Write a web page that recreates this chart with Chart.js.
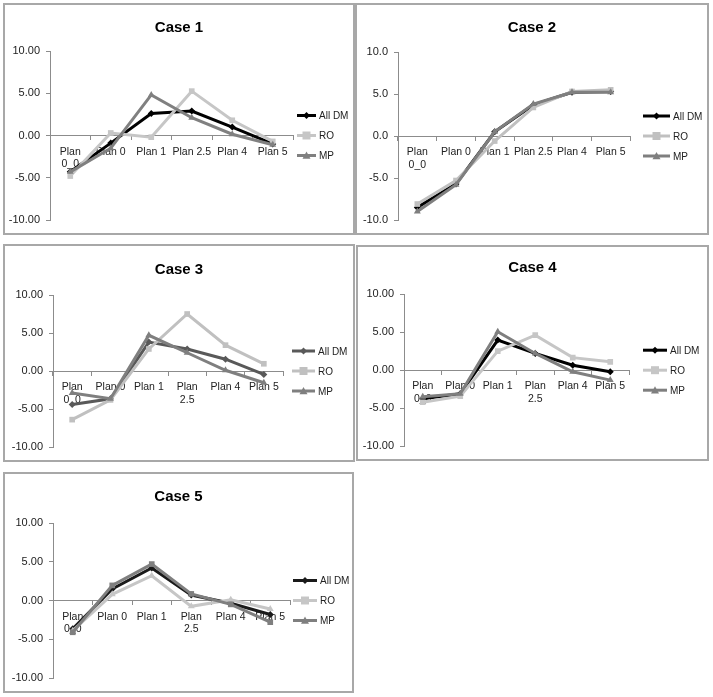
<!DOCTYPE html>
<html>
<head>
<meta charset="utf-8">
<script src="https://cdn.jsdelivr.net/npm/chart.js@4"></script>
<style>
  body { margin: 0; background: #fff; width: 713px; height: 697px; position: relative; overflow: hidden; }
  .panel { position: absolute; border: 2px solid #a8a8a8; box-sizing: border-box; background: #fff; }
  .panel canvas { display: block; }
</style>
</head>
<body>
<div id="wrap"></div>
<script>
const categories = ["Plan 0_0", "Plan 0", "Plan 1", "Plan 2.5", "Plan 4", "Plan 5"]
const seriesNames = ["All DM", "RO", "MP"]
const caseTitles = ["Case 1", "Case 2", "Case 3", "Case 4", "Case 5"]

const case1AllDM = [-4.3, -0.9, 2.6, 2.9, 1.0, -1.0]
const case1RO = [-4.8, 0.3, -0.2, 5.25, 1.8, -0.7]
const case1MP = [-4.3, -1.5, 4.8, 2.1, 0.15, -1.1]

const case2AllDM = [-8.5, -5.7, 0.5, 3.7, 5.2, 5.3]
const case2RO = [-8.1, -5.3, -0.6, 3.4, 5.3, 5.5]
const case2MP = [-9.0, -5.8, 0.5, 3.8, 5.2, 5.2]

const case3AllDM = [-4.4, -3.65, 3.8, 2.9, 1.55, -0.45]
const case3RO = [-6.4, -3.8, 2.9, 7.5, 3.4, 0.95]
const case3MP = [-2.9, -3.65, 4.7, 2.4, 0.1, -1.55]

const case4AllDM = [-3.75, -3.1, 3.95, 2.2, 0.65, -0.2]
const case4RO = [-4.2, -3.4, 2.5, 4.6, 1.65, 1.1]
const case4MP = [-3.5, -3.1, 5.05, 2.2, -0.2, -1.3]

const case5AllDM = [-3.65, 1.5, 4.2, 0.7, -0.35, -1.8]
const case5RO = [-3.9, 0.8, 3.2, -0.75, 0.1, -1.1]
const case5MP = [-4.1, 1.95, 4.7, 0.85, -0.5, -2.8]

const yTicks = [-10, -5, 0, 5, 10]

const caseData = [
  [case1AllDM, case1RO, case1MP],
  [case2AllDM, case2RO, case2MP],
  [case3AllDM, case3RO, case3MP],
  [case4AllDM, case4RO, case4MP],
  [case5AllDM, case5RO, case5MP]
]

const legendMarkers = ["rectRot", "rect", "triangle"]

// panel boxes and plot areas (canvas px)
const panels = [
  { left: 3, top: 3, w: 352, h: 232, L: 45, R: 288, T: 46, B: 215, titleY: 23, legX: 292, legLen: 19, wrap: [0], dec: 2, colors: ["#000000", "#c6c6c6", "#808080"], markers: ["rectRot", "rect", "triangle"] },
  { left: 355, top: 3, w: 354, h: 232, L: 41, R: 273, T: 47, B: 215, titleY: 23, legX: 286, legLen: 27, wrap: [0], dec: 1, colors: ["#000000", "#c0c0c0", "#7f7f7f"], markers: ["rectRot", "rect", "triangle"] },
  { left: 3, top: 244, w: 352, h: 218, L: 48, R: 278, T: 49, B: 201, titleY: 24, legX: 287, legLen: 23, wrap: [0, 3], dec: 2, colors: ["#595959", "#c0c0c0", "#7f7f7f"], markers: ["rectRot", "rect", "triangle"] },
  { left: 356, top: 245, w: 353, h: 216, L: 46, R: 271, T: 47, B: 200, titleY: 21, legX: 285, legLen: 24, wrap: [0, 3], dec: 2, colors: ["#000000", "#c6c6c6", "#7f7f7f"], markers: ["rectRot", "rect", "triangle"] },
  { left: 3, top: 472, w: 351, h: 221, L: 48, R: 285, T: 49, B: 204, titleY: 23, legX: 288, legLen: 24, wrap: [0, 3], dec: 2, colors: ["#1a1a1a", "#c6c6c6", "#7f7f7f"], markers: ["rectRot", "triangle", "rect"] }
]

const FONT = "'Liberation Sans', Arial, sans-serif"

function drawMarker(ctx, style, x, y, r, color) {
  ctx.save()
  ctx.fillStyle = color
  ctx.beginPath()
  if (style === "rect") {
    ctx.rect(x - r, y - r, r * 2, r * 2)
  } else if (style === "rectRot") {
    ctx.moveTo(x, y - r); ctx.lineTo(x + r, y); ctx.lineTo(x, y + r); ctx.lineTo(x - r, y)
  } else {
    ctx.moveTo(x, y - r); ctx.lineTo(x + r, y + r * 0.8); ctx.lineTo(x - r, y + r * 0.8)
  }
  ctx.closePath()
  ctx.fill()
  ctx.restore()
}

// Excel-like legend: line with marker, then the name
const excelLegend = {
  id: "excelLegend",
  afterDraw(chart, args, opts) {
    const ctx = chart.ctx
    const area = chart.chartArea
    const mid = (area.top + area.bottom) / 2
    chart.data.datasets.forEach((ds, i) => {
      const y = mid + (i - 1) * 20
      ctx.save()
      ctx.strokeStyle = ds.borderColor
      ctx.lineWidth = 3
      ctx.beginPath()
      ctx.moveTo(opts.x, y)
      ctx.lineTo(opts.x + opts.len, y)
      ctx.stroke()
      ctx.restore()
      drawMarker(ctx, legendMarkers[i], opts.x + opts.len / 2, y, ds.pointRadius, ds.borderColor)
      ctx.save()
      ctx.fillStyle = "#222"
      ctx.font = "10px " + FONT
      ctx.textBaseline = "middle"
      ctx.fillText(ds.label, opts.x + opts.len + 3, y + 1)
      ctx.restore()
    })
  }
}

const wrapEl = document.getElementById("wrap")

panels.forEach((p, idx) => {
  const div = document.createElement("div")
  div.className = "panel"
  div.style.left = p.left + "px"
  div.style.top = p.top + "px"
  div.style.width = p.w + "px"
  div.style.height = p.h + "px"
  const cv = document.createElement("canvas")
  const cw = p.w - 4, ch = p.h - 4
  cv.width = cw
  cv.height = ch
  div.appendChild(cv)
  wrapEl.appendChild(div)

  const datasets = caseData[idx].map((vals, i) => ({
    label: seriesNames[i],
    data: vals,
    borderColor: p.colors[i],
    backgroundColor: p.colors[i],
    borderWidth: 3,
    pointStyle: p.markers[i],
    pointRadius: i === 0 ? 3.5 : 4,
    pointBorderWidth: 0,
    tension: 0,
    order: 3 - i
  }))

  new Chart(cv.getContext("2d"), {
    type: "line",
    data: { labels: categories, datasets },
    options: {
      responsive: false,
      animation: false,
      layout: { padding: { top: 0, left: 0, right: 0, bottom: ch - p.B } },
      plugins: {
        legend: { display: false },
        tooltip: { enabled: false },
        title: {
          display: true,
          text: caseTitles[idx],
          color: "#000",
          font: { family: FONT, size: 15, weight: "bold", lineHeight: 1.2 },
          padding: { top: p.titleY - 9, bottom: p.T - p.titleY - 9 }
        },
        excelLegend: { x: p.legX, len: p.legLen }
      },
      scales: {
        x: {
          type: "category",
          position: { y: 0 },
          offset: true,
          grid: { drawOnChartArea: false, drawTicks: true, tickLength: 4, color: "#8c8c8c", offset: true },
          border: { display: true, color: "#8c8c8c", width: 1 },
          ticks: {
            autoSkip: false,
            maxRotation: 0,
            minRotation: 0,
            padding: 6,
            color: "#222",
            font: { family: FONT, size: 10.5, lineHeight: 1.2 },
            callback: function (v, i) {
              const lab = this.getLabelForValue(v)
              if (p.wrap.includes(i)) return lab.split(" ")
              return lab
            }
          }
        },
        y: {
          position: "left",
          min: -10,
          max: 10,
          afterBuildTicks: (s) => { s.ticks = yTicks.map(v => ({ value: v })) },
          afterFit: (s) => { s.width = p.L },
          grid: { drawOnChartArea: false, drawTicks: true, tickLength: 4, color: "#8c8c8c" },
          border: { display: true, color: "#8c8c8c", width: 1 },
          ticks: {
            padding: 6,
            color: "#222",
            font: { family: FONT, size: 11 },
            callback: (v) => Number(v).toFixed(p.dec)
          }
        },
        // empty right-hand strip that holds the legend
        side: {
          axis: "y",
          position: "right",
          min: -10,
          max: 10,
          afterFit: (s) => { s.width = cw - p.R },
          grid: { display: false },
          border: { display: false },
          ticks: { display: false }
        }
      }
    },
    plugins: [excelLegend]
  })
})
</script>
</body>
</html>
